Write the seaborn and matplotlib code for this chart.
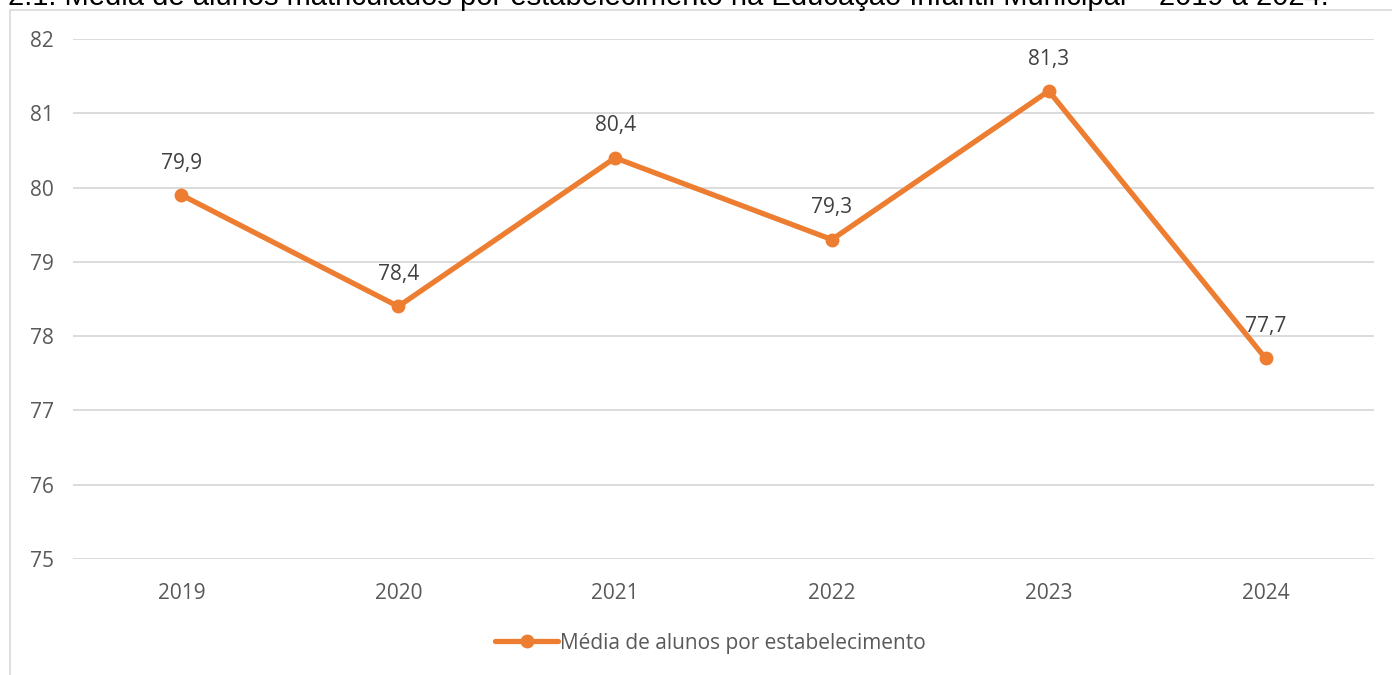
import matplotlib.pyplot as plt
import matplotlib.patches as mpatches
import seaborn as sns
import pandas as pd

anos = [2019, 2020, 2021, 2022, 2023, 2024]
media = [79.9, 78.4, 80.4, 79.3, 81.3, 77.7]
serie = 'Média de alunos por estabelecimento'
titulo = '2.1: Média de alunos matriculados por estabelecimento na Educação Infantil Municipal – 2019 a 2024.'

df = pd.DataFrame({'ano': anos, 'media': media})

sns.set_style('white')
plt.rcParams['font.family'] = ['Open Sans', 'DejaVu Sans']

cor = '#ED7D31'
cinza = '#595959'

fig = plt.figure(figsize=(13.92, 6.75), dpi=100)
ax = fig.add_axes([73/1392, 1 - 559/675, (1374-73)/1392, (559-39)/675])

sns.lineplot(data=df, x='ano', y='media', ax=ax, color=cor, linewidth=3.8,
             marker='o', markersize=10, markeredgewidth=0, label=serie)

for x, y in zip(anos, media):
    ax.annotate(f'{y:.1f}'.replace('.', ','), (x, y), xytext=(0, 23),
                textcoords='offset points', ha='center', va='center',
                fontsize=15, color='#404040')

ax.set_xlim(anos[0] - 0.5, anos[-1] + 0.5)
ax.set_ylim(75, 82)
ax.set_xticks(anos)
ax.set_yticks(range(75, 83))
ax.tick_params(axis='both', labelsize=15, colors=cinza, length=0)
ax.tick_params(axis='x', pad=17)
ax.tick_params(axis='y', pad=14)
ax.yaxis.grid(True, color='#D9D9D9', linewidth=1.3)
ax.set_xlabel('')
ax.set_ylabel('')
for s in ax.spines.values():
    s.set_visible(False)

leg = ax.legend(loc='center', bbox_to_anchor=(0.49, (559 - 643) / (559 - 39)),
                frameon=False, fontsize=15, handlelength=3.0, handletextpad=0.1)
for t in leg.get_texts():
    t.set_color(cinza)

# moldura do gráfico
fig.patches.append(mpatches.Rectangle((10/1392, -0.1), 1.2, 1 - 10/675 + 0.1,
                                      transform=fig.transFigure, fill=False,
                                      edgecolor='#D9D9D9', linewidth=1.2))

# título cortado no topo
fig.text(8/1392, 1 - 5/675, titulo, ha='left', va='baseline', fontsize=21,
         color='#000000', family=['Liberation Sans', 'DejaVu Sans'])

fig.savefig('out.png', dpi=100)
